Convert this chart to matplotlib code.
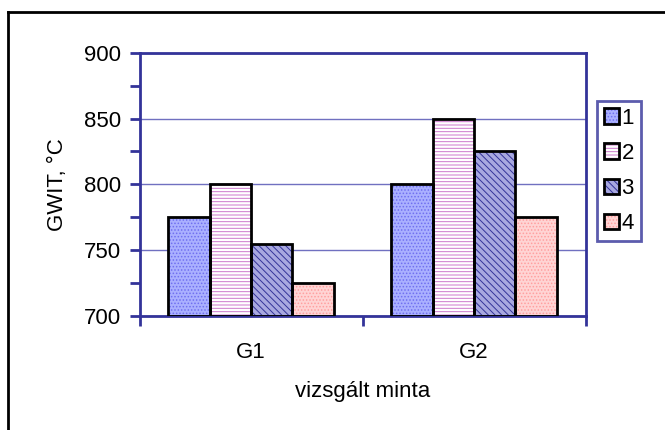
import matplotlib
matplotlib.use('Agg')
import matplotlib.pyplot as plt
from matplotlib.legend_handler import HandlerTuple
import numpy as np

groups = ['G1', 'G2']
series = ['1', '2', '3', '4']
values = {
    '1': [775, 800],
    '2': [800, 850],
    '3': [755, 825],
    '4': [725, 775],
}
# (face colour, hatch, hatch colour) per series
styles = {
    '1': ('#aab0ff', '.....', '#6f6ff0'),
    '2': ('#ffffff', '-----', '#cc77cc'),
    '3': ('#a8a8e0', '\\\\\\\\\\', '#333399'),
    '4': ('#ffd4d4', '.....', '#ff9f9f'),
}

plt.rcParams['font.family'] = ['Liberation Sans', 'DejaVu Sans']
plt.rcParams['hatch.linewidth'] = 0.7

axis_col = '#333399'
grid_col = '#7070c0'

fig = plt.figure(figsize=(6.65, 4.3), dpi=100)

# outer chart frame: an empty axes whose top and left spines are the frame
top = 1 - 12/430
left = 8/665
frame_ax = fig.add_axes([left, -0.05, 1.0, top + 0.05], zorder=-1)
frame_ax.patch.set_visible(False)
frame_ax.set_xticks([])
frame_ax.set_yticks([])
frame_ax.spines['right'].set_visible(False)
frame_ax.spines['bottom'].set_visible(False)
for side in ['top', 'left']:
    frame_ax.spines[side].set_color('black')
    frame_ax.spines[side].set_linewidth(2)

ax = fig.add_axes([139.5/665, 1 - 316/430, (585.5 - 139.5)/665, (316 - 52.7)/430])

x = np.arange(len(groups))
w = 0.185
handles = []
for i, s in enumerate(series):
    fc, hatch, hc = styles[s]
    pos = x + (i - 1.5) * w
    b1 = ax.bar(pos, np.array(values[s]) - 700, w, bottom=700, color=fc,
                hatch=hatch, edgecolor=hc, linewidth=0, zorder=2)
    b2 = ax.bar(pos, np.array(values[s]) - 700, w, bottom=700, fill=False,
                edgecolor='black', linewidth=2, zorder=3)
    handles.append((b1[0], b2[0]))

ax.set_ylim(700, 900)
ax.set_xlim(-0.5, 1.5)
ax.set_yticks([700, 750, 800, 850, 900])
ax.set_yticks([725, 775, 825, 875], minor=True)
ax.yaxis.grid(True, color=grid_col, linewidth=1, zorder=0)
ax.set_axisbelow(True)

ax.set_xticks([-0.5, 0.5, 1.5])
ax.set_xticklabels([])
for xi, g in zip(x, groups):
    ax.text(xi, -0.14, g, transform=ax.get_xaxis_transform(), ha='center',
            va='center', fontsize=16)

ax.tick_params(axis='y', which='both', direction='out', length=7, width=2,
               color=axis_col, labelsize=16, pad=6)
ax.tick_params(axis='x', direction='out', length=7, width=2, color=axis_col)
for sp in ax.spines.values():
    sp.set_color(axis_col)
    sp.set_linewidth(2)

ax.set_ylabel('GWIT, °C', fontsize=16, labelpad=12)
ax.text(0.5, -0.285, 'vizsgált minta', transform=ax.transAxes, ha='center',
        va='center', fontsize=16)

leg = fig.legend(handles, series, handler_map={tuple: HandlerTuple(ndivide=1)},
                 loc='upper left', bbox_to_anchor=(597/665, 1 - 101/430),
                 fontsize=16, frameon=True, fancybox=False, handlelength=0.7,
                 handleheight=0.7, handletextpad=0.1, labelspacing=0.64,
                 borderpad=0.3, borderaxespad=0)
leg.get_frame().set_edgecolor(axis_col)
leg.get_frame().set_linewidth(2)

fig.savefig('out.png', dpi=100)
